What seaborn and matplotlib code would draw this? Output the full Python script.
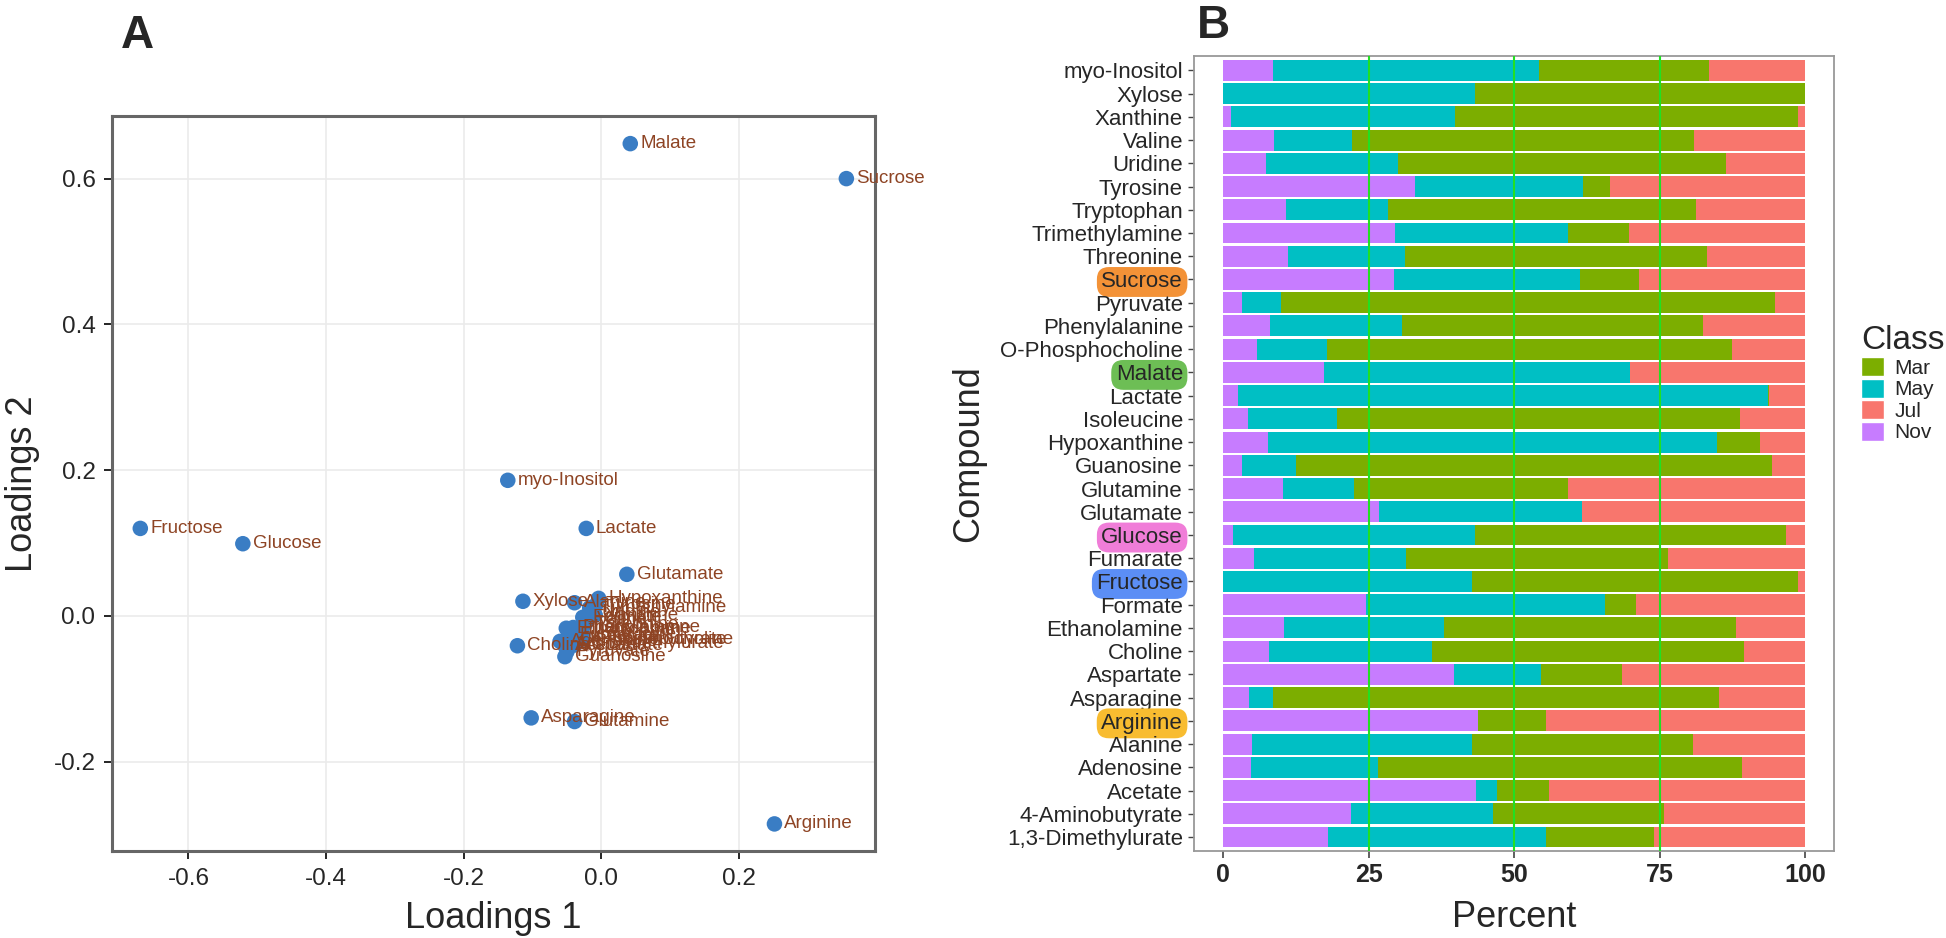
import pandas as pd
import seaborn as sns
import matplotlib.pyplot as plt
from matplotlib.patches import Patch

sns.set_style('white')
plt.rcParams['font.family'] = ['Liberation Sans', 'DejaVu Sans']

# --- Panel A: PCA loadings ---
load_names = ['Malate', 'Sucrose', 'myo-Inositol', 'Fructose', 'Glucose', 'Lactate',
              'Glutamate', 'Xylose', 'Hypoxanthine', 'Alanine', 'Choline', 'Asparagine',
              'Glutamine', 'Arginine', 'Xanthine', 'Formate', 'Trimethylamine',
              'Ethanolamine', 'Phenylalanine', 'Tryptophan', 'Threonine', 'Adenosine',
              'Acetate', 'Aspartate', '4-Aminobutyrate', 'O-Phosphocholine',
              '1,3-Dimethylurate', 'Isoleucine', 'Valine', 'Uridine', 'Tyrosine',
              'Guanosine', 'Pyruvate', 'Fumarate']
load1 = [0.042, 0.356, -0.136, -0.670, -0.521, -0.022,
         0.037, -0.114, -0.004, -0.039, -0.122, -0.102,
         -0.039, 0.2515, -0.009, -0.027, -0.017,
         -0.051, -0.041, -0.034, -0.024, -0.060,
         -0.053, -0.039, -0.031, -0.046,
         -0.050, -0.027, -0.020, -0.014, -0.008,
         -0.053, -0.050, -0.046]
load2 = [0.648, 0.600, 0.186, 0.120, 0.099, 0.120,
         0.057, 0.020, 0.024, 0.018, -0.041, -0.140,
         -0.145, -0.2855, 0.001, -0.002, 0.011,
         -0.017, -0.016, -0.019, -0.012, -0.035,
         -0.041, -0.040, -0.033, -0.033,
         -0.038, -0.026, -0.005, 0.005, 0.015,
         -0.056, -0.049, -0.027]

# --- Panel B: class percentages (top to bottom) ---
compounds = ['myo-Inositol', 'Xylose', 'Xanthine', 'Valine', 'Uridine', 'Tyrosine',
             'Tryptophan', 'Trimethylamine', 'Threonine', 'Sucrose', 'Pyruvate',
             'Phenylalanine', 'O-Phosphocholine', 'Malate', 'Lactate', 'Isoleucine',
             'Hypoxanthine', 'Guanosine', 'Glutamine', 'Glutamate', 'Glucose',
             'Fumarate', 'Fructose', 'Formate', 'Ethanolamine', 'Choline', 'Aspartate',
             'Asparagine', 'Arginine', 'Alanine', 'Adenosine', 'Acetate',
             '4-Aminobutyrate', '1,3-Dimethylurate']
nov = [8.5, 0, 1.4, 8.8, 7.4, 32.9, 10.8, 29.5, 11.1, 29.4, 3.3, 8.0, 5.9, 17.3, 2.5,
       4.3, 7.7, 3.2, 10.3, 26.8, 1.7, 5.3, 0, 24.5, 10.5, 7.8, 39.6, 4.5, 43.8, 5.0,
       4.7, 43.4, 22.0, 18.0]
may = [45.8, 43.3, 38.5, 13.4, 22.6, 28.9, 17.6, 29.7, 20.1, 32.0, 6.7, 22.7, 12.0,
       52.6, 91.1, 15.3, 77.1, 9.4, 12.2, 34.9, 41.6, 26.2, 42.8, 41.1, 27.4, 28.1,
       15.1, 4.1, 0, 37.8, 21.9, 3.7, 24.3, 37.4]
mar = [29.2, 56.7, 58.9, 58.7, 56.4, 4.6, 52.9, 10.6, 52.0, 10.0, 84.8, 51.7, 69.5,
       0, 0.2, 69.2, 7.5, 81.7, 36.7, 0, 53.5, 45.0, 56.0, 5.4, 50.3, 53.7, 13.9,
       76.7, 11.6, 38.0, 62.5, 8.9, 29.5, 18.7]
jul = [16.5, 0, 1.2, 19.1, 13.6, 33.6, 18.7, 30.2, 16.8, 28.6, 5.2, 17.6, 12.6, 30.1,
       6.2, 11.2, 7.7, 5.7, 40.8, 38.3, 3.2, 23.5, 1.2, 29.0, 11.8, 10.4, 31.4, 14.7,
       44.6, 19.2, 10.9, 44.0, 24.2, 25.9]

classes = ['Mar', 'May', 'Jul', 'Nov']
class_colors = {'Mar': '#7CAE00', 'May': '#00BFC4', 'Jul': '#F8766D', 'Nov': '#C77CFF'}
highlight = {'Sucrose': '#F39237', 'Malate': '#6DBE55', 'Glucose': '#F07DD8',
             'Fructose': '#5B8EF5', 'Arginine': '#F8BC30'}

fig = plt.figure(figsize=(19.46, 9.38), dpi=100)

# Panel A
axA = fig.add_axes([0.0576, 0.0928, 0.392, 0.7836])
dfA = pd.DataFrame({'Compound': load_names, 'Loadings 1': load1, 'Loadings 2': load2})
sns.scatterplot(data=dfA, x='Loadings 1', y='Loadings 2', ax=axA, color='#3A7DC4',
                s=125, edgecolor='none', zorder=3)
for name, x, y in zip(load_names, load1, load2):
    axA.annotate(name, (x, y), xytext=(7, 0), textcoords='offset points',
                 ha='left', va='center', fontsize=13.5, color='#8E4424', zorder=4)
axA.set_xlim(-0.711, 0.3975)
axA.set_ylim(-0.3226, 0.686)
axA.set_xticks([-0.6, -0.4, -0.2, 0.0, 0.2])
axA.set_yticks([-0.2, 0.0, 0.2, 0.4, 0.6])
axA.set_xticklabels(['-0.6', '-0.4', '-0.2', '0.0', '0.2'])
axA.set_yticklabels(['-0.2', '0.0', '0.2', '0.4', '0.6'])
axA.grid(True, color='#EBEBEB', linewidth=1.2)
axA.set_axisbelow(True)
axA.tick_params(labelsize=17.5, length=6, width=1.2, color='black', direction='out',
                bottom=True, left=True, pad=6)
for sp in axA.spines.values():
    sp.set_color('#666666')
    sp.set_linewidth(2.2)
axA.set_xlabel('Loadings 1', fontsize=26, labelpad=8)
axA.set_ylabel('Loadings 2', fontsize=26, labelpad=10)
fig.text(0.062, 0.985, 'A', fontsize=33, fontweight='bold', va='top', ha='left')

# Panel B: stacked bars drawn as overlapping cumulative bars
axB = fig.add_axes([0.6136, 0.0928, 0.3289, 0.847])
dfB = pd.DataFrame({'Compound': compounds, 'Nov': nov, 'May': may, 'Mar': mar, 'Jul': jul})
dfB['c_nov'] = dfB['Nov']
dfB['c_may'] = dfB['c_nov'] + dfB['May']
dfB['c_mar'] = dfB['c_may'] + dfB['Mar']
dfB['c_jul'] = dfB['c_mar'] + dfB['Jul']
for col, cls in [('c_jul', 'Jul'), ('c_mar', 'Mar'), ('c_may', 'May'), ('c_nov', 'Nov')]:
    sns.barplot(data=dfB, y='Compound', x=col, order=compounds, ax=axB,
                color=class_colors[cls], saturation=1, width=0.9, errorbar=None,
                edgecolor='none', linewidth=0)
for v in [25, 50, 75]:
    axB.axvline(v, color='#22E022', linewidth=1.5, zorder=5)
axB.set_xlim(-5, 105)
axB.set_ylim(len(compounds) - 0.4, -0.6)
axB.set_xticks([0, 25, 50, 75, 100])
axB.tick_params(axis='x', labelsize=18, length=5, width=1.2, pad=4)
axB.tick_params(axis='y', labelsize=16, length=4, width=1, pad=4)
axB.tick_params(bottom=True, left=True, color='#444444')
for lab in axB.get_xticklabels():
    lab.set_fontweight('bold')
for lab in axB.get_yticklabels():
    txt = lab.get_text()
    if txt in highlight:
        lab.set_bbox(dict(boxstyle='round,pad=0.2,rounding_size=0.55',
                          facecolor=highlight[txt], edgecolor='none'))
for sp in axB.spines.values():
    sp.set_color('#999999')
    sp.set_linewidth(1.3)
axB.set_xlabel('Percent', fontsize=26, labelpad=9)
axB.set_ylabel('Compound', fontsize=26, labelpad=10)
fig.text(0.615, 0.996, 'B', fontsize=33, fontweight='bold', va='top', ha='left')

handles = [Patch(facecolor=class_colors[c], edgecolor='white') for c in classes]
fig.legend(handles, classes, title='Class', loc='upper left',
           bbox_to_anchor=(0.952, 0.662), frameon=False, fontsize=15,
           title_fontsize=24, handlelength=1.1, handleheight=1.0,
           labelspacing=0.05, handletextpad=0.5, borderaxespad=0,
           alignment='left')

plt.savefig('out.png', dpi=100)
